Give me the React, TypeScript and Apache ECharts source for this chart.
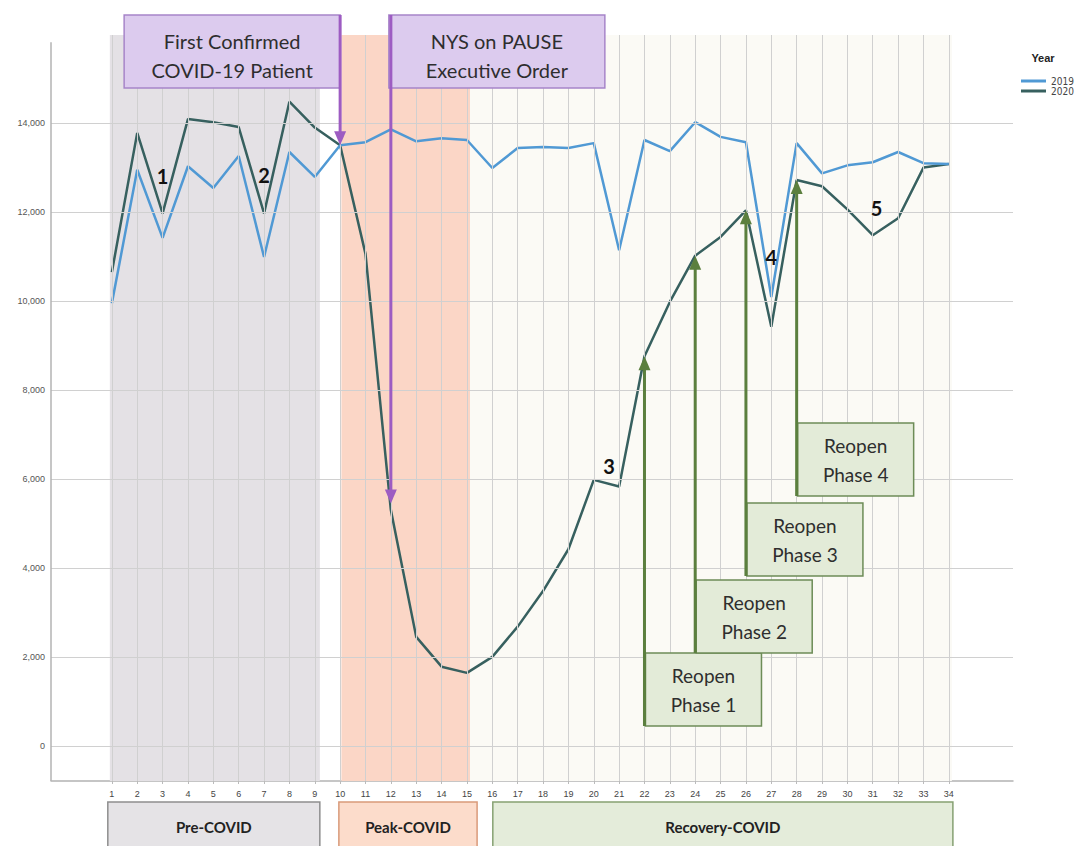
import React, { useEffect, useRef } from "react";
import * as echarts from "echarts";

// ---------- data ----------
const weeks = [1, 2, 3, 4, 5, 6, 7, 8, 9, 10, 11, 12, 13, 14, 15, 16, 17, 18, 19, 20, 21, 22, 23, 24, 25, 26, 27, 28, 29, 30, 31, 32, 33, 34];
const values2019 = [9950, 12950, 11420, 13030, 12540, 13260, 10990, 13350, 12790, 13500, 13570, 13860, 13590, 13660, 13620, 12990, 13440, 13460, 13440, 13550, 11140, 13620, 13370, 14020, 13690, 13570, 10090, 13550, 12870, 13050, 13120, 13350, 13100, 13080];
const values2020 = [10650, 13780, 11970, 14090, 14020, 13910, 11970, 14480, 13900, 13500, 11060, 5300, 2450, 1780, 1640, 2000, 2680, 3480, 4420, 5980, 5830, 8760, 9980, 11020, 11440, 12040, 9420, 12720, 12580, 12060, 11480, 11860, 13000, 13080];
const yTicks = [0, 2000, 4000, 6000, 8000, 10000, 12000, 14000];

const phaseNames = ["Pre-COVID", "Peak-COVID", "Recovery-COVID"];
const phaseBandFrom = [0.92, 10.05, 15.12];
const phaseBandTo = [9.2, 15.12, 34.12];
const phaseBoxFrom = [0.84, 9.95, 16.02];
const phaseBoxTo = [9.2, 15.4, 34.16];

const eventLabels = [["First Confirmed", "COVID-19 Patient"], ["NYS on PAUSE", "Executive Order"]];
const eventWeeks = [10, 12];
const eventTips = [13500, 5450];

const reopenLabels = ["Phase 1", "Phase 2", "Phase 3", "Phase 4"];
const reopenWeeks = [22, 24, 26, 28];
const reopenTips = [8760, 11020, 12040, 12720];
const reopenBoxTops = [2090, 3730, 5460, 7260];

const markerTexts = ["1", "2", "3", "4", "5"];
const markerWeeks = [3, 7, 20.6, 27, 31.15];
const markerValues = [12810, 12830, 6290, 10990, 12090];

// ---------- layout / style ----------
const X_MIN = -1.4;
const X_MAX = 36.53;
const Y_MIN = -790;
const Y_MAX = 16430;
const BAND_TOP = 15980;
const AXIS_TOP = 15820;

const bandColors = ["#e4e1e5", "#fbd6c6", "#fbfaf5"];
const boxFills = ["#e5e3e6", "#fcdccb", "#e4ecda"];
const boxStrokes = ["#8e8e8e", "#d99a7a", "#86a172"];

const C2019 = "#5099d4";
const C2020 = "#37605f";
const FONT = "Lato, 'Open Sans', sans-serif";

export default function App() {
  const ref = useRef<HTMLDivElement>(null);

  useEffect(() => {
    const chart = echarts.init(ref.current!, null, { renderer: "svg" });

    const gridLines: any[] = [];
    weeks.forEach((w) => gridLines.push([{ coord: [w, Y_MIN] }, { coord: [w, BAND_TOP] }]));
    yTicks.forEach((v) => gridLines.push([{ coord: [X_MIN, v] }, { coord: [X_MAX, v] }]));
    gridLines.push([
      { coord: [X_MIN, Y_MIN], lineStyle: { color: "#b3b3b3", width: 1.5 } },
      { coord: [X_MIN, AXIS_TOP] },
    ]);

    const option: any = {
      animation: false,
      backgroundColor: "#ffffff",
      textStyle: { fontFamily: "'Liberation Sans', Arial, sans-serif" },
      grid: { left: 51, right: 62, top: 15, bottom: 65, containLabel: false },
      legend: {
        data: [
          { name: "2019", icon: "rect" },
          { name: "2020", icon: "rect" },
        ],
        orient: "vertical",
        left: 1016,
        top: 71,
        itemWidth: 25,
        itemHeight: 3,
        itemGap: 0,
        textStyle: { fontSize: 10, color: "#444", lineHeight: 10, fontFamily: "'DejaVu Sans Condensed', 'Liberation Sans Narrow', sans-serif" },
      },
      xAxis: {
        type: "value",
        min: X_MIN,
        max: X_MAX,
        splitLine: { show: false },
        axisLine: { show: true, onZero: false, lineStyle: { color: "#b3b3b3", width: 1.5 } },
        axisTick: { show: true, customValues: weeks, length: 3, lineStyle: { color: "#bbbbbb" } },
        axisLabel: { customValues: weeks, fontSize: 9, color: "#444", margin: 8 },
      },
      yAxis: {
        type: "value",
        min: Y_MIN,
        max: Y_MAX,
        splitLine: { show: false },
        axisLine: { show: false },
        axisTick: { show: false },
        axisLabel: {
          customValues: yTicks,
          fontSize: 9,
          color: "#555",
          margin: 6,
          formatter: (v: number) => Number(v).toLocaleString("en-US"),
        },
      },
      series: [
        {
          name: "bands",
          type: "line",
          data: [],
          silent: true,
          z: 0,
          markArea: {
            silent: true,
            data: phaseNames.map((_, i) => [
              { xAxis: phaseBandFrom[i], yAxis: Y_MIN, itemStyle: { color: bandColors[i] } },
              { xAxis: phaseBandTo[i], yAxis: BAND_TOP },
            ]),
          },
        },
        {
          name: "grid",
          type: "line",
          data: [],
          silent: true,
          z: 1,
          markLine: {
            silent: true,
            symbol: ["none", "none"],
            label: { show: false },
            emphasis: { disabled: true },
            lineStyle: { color: "#d0d0d0", width: 1, type: "solid" },
            data: gridLines,
          },
        },
        {
          name: "2019",
          type: "line",
          data: weeks.map((w, i) => [w, values2019[i]]),
          symbol: "none",
          z: 4,
          lineStyle: { color: C2019, width: 2.5 },
          itemStyle: { color: C2019 },
        },
        {
          name: "2020",
          type: "line",
          data: weeks.map((w, i) => [w, values2020[i]]),
          symbol: "none",
          z: 3,
          lineStyle: { color: C2020, width: 2.5 },
          itemStyle: { color: C2020 },
        },
      ],
    };

    chart.setOption(option);

    const px = (x: number, y: number) => chart.convertToPixel({ gridIndex: 0 }, [x, y]) as number[];
    const g: any[] = [];

    // Legend title
    g.push({
      type: "text",
      x: 1043,
      y: 58,
      style: { text: "Year", fontSize: 11, fontWeight: "bold", fill: "#222", align: "center", verticalAlign: "middle", fontFamily: "'Liberation Sans', Arial, sans-serif" },
      z: 100,
    });

    // Bottom phase boxes
    phaseNames.forEach((name, i) => {
      const a = px(phaseBoxFrom[i], 0)[0];
      const b = px(phaseBoxTo[i], 0)[0];
      g.push({
        type: "rect",
        shape: { x: a, y: 802, width: b - a, height: 60 },
        style: { fill: boxFills[i], stroke: boxStrokes[i], lineWidth: 1.5 },
        z: 100,
      });
      g.push({
        type: "text",
        x: (a + b) / 2,
        y: 827,
        style: { text: name, fontSize: 15, fontWeight: "bold", fill: "#222", align: "center", verticalAlign: "middle", fontFamily: FONT },
        z: 101,
      });
    });

    // Purple event annotations
    eventLabels.forEach((lines, i) => {
      const tip = px(eventWeeks[i], eventTips[i]);
      const ax = tip[0];
      const bw = 216;
      const bx = i === 0 ? ax - bw : ax - 2;
      g.push({
        type: "rect",
        shape: { x: bx, y: 15, width: bw, height: 73 },
        style: { fill: "#dccbee", stroke: "#a785c9", lineWidth: 1.5 },
        z: 100,
      });
      lines.forEach((t, k) => {
        g.push({
          type: "text",
          x: bx + bw / 2,
          y: 41 + k * 29,
          style: { text: t, fontSize: 20, fill: "#2e2e2e", align: "center", verticalAlign: "middle", fontFamily: FONT },
          z: 101,
        });
      });
      g.push({
        type: "line",
        shape: { x1: ax, y1: 15, x2: ax, y2: tip[1] - 12 },
        style: { stroke: "#9d5cc2", lineWidth: 3 },
        z: 102,
      });
      g.push({
        type: "polygon",
        shape: { points: [[ax - 6, tip[1] - 14], [ax + 6, tip[1] - 14], [ax, tip[1]]] },
        style: { fill: "#9d5cc2" },
        z: 102,
      });
    });

    // Green reopen annotations
    reopenLabels.forEach((label, i) => {
      const tip = px(reopenWeeks[i], reopenTips[i]);
      const ax = tip[0];
      const top = px(reopenWeeks[i], reopenBoxTops[i])[1];
      const bw = 116;
      const bh = 73;
      g.push({
        type: "rect",
        shape: { x: ax + 1, y: top, width: bw, height: bh },
        style: { fill: "#e3ebd8", stroke: "#6d8c57", lineWidth: 1.5 },
        z: 100,
      });
      ["Reopen", label].forEach((t, k) => {
        g.push({
          type: "text",
          x: ax + 1 + bw / 2,
          y: top + 23 + k * 29,
          style: { text: t, fontSize: 19, fill: "#2e2e2e", align: "center", verticalAlign: "middle", fontFamily: FONT },
          z: 101,
        });
      });
      g.push({
        type: "line",
        shape: { x1: ax, y1: top + bh, x2: ax, y2: tip[1] + 12 },
        style: { stroke: "#5b7f3e", lineWidth: 3 },
        z: 102,
      });
      g.push({
        type: "polygon",
        shape: { points: [[ax - 6, tip[1] + 14], [ax + 6, tip[1] + 14], [ax, tip[1]]] },
        style: { fill: "#5b7f3e" },
        z: 102,
      });
    });

    // Number markers
    markerTexts.forEach((t, i) => {
      const p = px(markerWeeks[i], markerValues[i]);
      g.push({
        type: "text",
        x: p[0],
        y: p[1],
        style: { text: t, fontSize: 20, fontWeight: "bold", fill: "#111", align: "center", verticalAlign: "middle", fontFamily: FONT },
        z: 103,
      });
    });

    chart.setOption({ graphic: g });

    return () => chart.dispose();
  }, []);

  return (
    <div
      ref={ref}
      style={{ position: "absolute", left: 0, top: 0, width: 1075, height: 846, background: "#fff" }}
    />
  );
}
